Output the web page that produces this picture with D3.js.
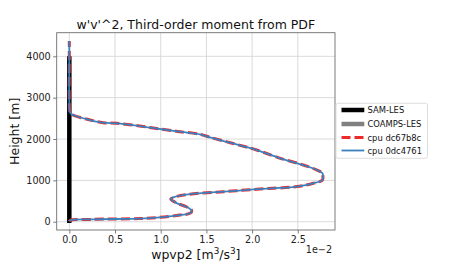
<!DOCTYPE html>
<html><head><meta charset="utf-8">
<script src="https://cdn.jsdelivr.net/npm/d3@7"></script>
<style>html,body{margin:0;padding:0;background:#fff;}svg{display:block;font-family:"DejaVu Sans",sans-serif;}</style>
</head><body>
<svg id="c" width="450" height="270"></svg>
<script>
const titleText = "w'v'^2, Third-order moment from PDF";
const xTicks = [0, 0.005, 0.01, 0.015, 0.02, 0.025];
const xTickLabels = ["0.0", "0.5", "1.0", "1.5", "2.0", "2.5"];
const yTicks = [0, 1000, 2000, 3000, 4000];
const yTickLabels = ["0", "1000", "2000", "3000", "4000"];
const samHeights = [-30, 4000];
const samValues = [0, 0];
const coampsHeights = [];
const coampsValues = [];
const cpuHeights = [10, 34, 58, 77, 106, 162, 203, 266, 363, 445, 549, 590, 665, 726, 786, 851, 929, 1008, 1090, 1170, 1250, 1371, 1533, 1734, 1911, 2041, 2114, 2177, 2242, 2314, 2380, 2394, 2459, 2580, 2636, 2944, 3911, 4370];
const cpuA = [0, 0.0001, 0.0026, 0.0077, 0.0099, 0.0121, 0.0132, 0.0134, 0.0128, 0.0118, 0.0111, 0.0114, 0.0132, 0.0169, 0.0205, 0.0249, 0.0267, 0.0277, 0.02775, 0.0277, 0.0271, 0.0256, 0.0231, 0.0205, 0.0176, 0.0154, 0.0143, 0.0121, 0.0099, 0.0077, 0.0052, 0.0037, 0.0023, 0.0004, 0.0001, 0, 0, 0];
const cpuB = [0, 0.0001, 0.0026, 0.0077, 0.0099, 0.0121, 0.0132, 0.0134, 0.0128, 0.0118, 0.0111, 0.0114, 0.0132, 0.0169, 0.0205, 0.0249, 0.0267, 0.0277, 0.02775, 0.0277, 0.0271, 0.0256, 0.0231, 0.0205, 0.0176, 0.0154, 0.0143, 0.0121, 0.0099, 0.0077, 0.0052, 0.0037, 0.0023, 0.0004, 0.0001, 0, 0, 0];
const legendNames = ["SAM-LES", "COAMPS-LES", "cpu dc67b8c", "cpu 0dc4761"];

const svg = d3.select("#c");
const L = 56.7, R = 335, T = 32.7, B = 230;
const x = d3.scaleLinear().domain([-0.00138, 0.02907]).range([L, R]);
const y = d3.scaleLinear().domain([-200, 4571]).range([B, T]);

// grid
const g = svg.append("g");
g.selectAll(".gx").data(xTicks).join("line").attr("x1", d => x(d)).attr("x2", d => x(d)).attr("y1", T).attr("y2", B).attr("stroke", "#d6d6d6").attr("stroke-width", 0.9);
g.selectAll(".gy").data(yTicks).join("line").attr("y1", d => y(d)).attr("y2", d => y(d)).attr("x1", L).attr("x2", R).attr("stroke", "#d6d6d6").attr("stroke-width", 0.9);

svg.append("defs").append("clipPath").attr("id", "clip").append("rect").attr("x", L).attr("y", T).attr("width", R - L).attr("height", B - T);
const plot = svg.append("g").attr("clip-path", "url(#clip)");

const line = (xs, hs) => d3.line().x((d, i) => x(xs[i])).y((d, i) => y(hs[i])).curve(d3.curveCatmullRom)(hs);

plot.append("path").attr("d", line(samValues, samHeights)).attr("fill", "none").attr("stroke", "#000").attr("stroke-width", 4.5);
if (coampsHeights.length) plot.append("path").attr("d", line(coampsValues, coampsHeights)).attr("fill", "none").attr("stroke", "#808080").attr("stroke-width", 4.5);
plot.append("path").attr("d", line(cpuA, cpuHeights)).attr("fill", "none").attr("stroke", "#ee2a2a").attr("stroke-width", 3).attr("stroke-dasharray", "9,4");
plot.append("path").attr("d", line(cpuB, cpuHeights)).attr("fill", "none").attr("stroke", "#3a80bf").attr("stroke-width", 1.8);

// spines
svg.append("rect").attr("x", L).attr("y", T).attr("width", R - L).attr("height", B - T).attr("fill", "none").attr("stroke", "#6e6e6e").attr("stroke-width", 0.9);

// axes
const xa = svg.append("g").attr("transform", `translate(0,${B})`).call(d3.axisBottom(x).tickValues(xTicks).tickFormat((d, i) => xTickLabels[i]).tickSize(3.5).tickPadding(2.5));
const ya = svg.append("g").attr("transform", `translate(${L},0)`).call(d3.axisLeft(y).tickValues(yTicks).tickFormat((d, i) => yTickLabels[i]).tickSize(3.5).tickPadding(2.5));
[xa, ya].forEach(a => {
  a.select(".domain").remove();
  a.selectAll(".tick line").attr("stroke", "#6e6e6e").attr("stroke-width", 0.9);
  a.selectAll(".tick text").attr("font-family", "DejaVu Sans").attr("font-size", 9.6).attr("fill", "#222");
});

svg.append("text").attr("x", (L + R) / 2).attr("y", 29).attr("text-anchor", "middle").attr("font-size", 12.5).attr("fill", "#111").text(titleText);

const xl = svg.append("text").attr("x", (L + R) / 2).attr("y", 258.5).attr("text-anchor", "middle").attr("font-size", 12.5).attr("fill", "#111");
xl.append("tspan").text("wpvp2 [m");
xl.append("tspan").attr("dy", -4.5).attr("font-size", 8.8).text("3");
xl.append("tspan").attr("dy", 4.5).text("/s");
xl.append("tspan").attr("dy", -4.5).attr("font-size", 8.8).text("3");
xl.append("tspan").attr("dy", 4.5).text("]");

svg.append("text").attr("transform", `translate(19,${(T + B) / 2}) rotate(-90)`).attr("text-anchor", "middle").attr("font-size", 12.5).attr("fill", "#111").text("Height [m]");

svg.append("text").attr("x", 332).attr("y", 253).attr("text-anchor", "end").attr("font-size", 9.6).attr("fill", "#222").text("1e\u22122");

// legend
const lg = svg.append("g");
lg.append("rect").attr("x", 336).attr("y", 103.3).attr("width", 91.5).attr("height", 55).attr("rx", 2).attr("fill", "#fff").attr("stroke", "#d9d9d9").attr("stroke-width", 0.9);
const styles = [
  {c: "#000", w: 4.5, dash: null},
  {c: "#808080", w: 4.5, dash: null},
  {c: "#ee2a2a", w: 3, dash: "9,4"},
  {c: "#3a80bf", w: 1.8, dash: null}
];
const rowsY = [110, 124, 137.5, 150.5];
legendNames.forEach((n, i) => {
  const s = styles[i];
  const ln = lg.append("line").attr("x1", 341.5).attr("x2", 364.3).attr("y1", rowsY[i]).attr("y2", rowsY[i]).attr("stroke", s.c).attr("stroke-width", s.w);
  if (s.dash) ln.attr("stroke-dasharray", s.dash).attr("stroke-dashoffset", 0);
  lg.append("text").attr("x", 367.5).attr("y", rowsY[i] + 3).attr("font-size", 8.4).attr("fill", "#111").text(n);
});
</script>
</body></html>
